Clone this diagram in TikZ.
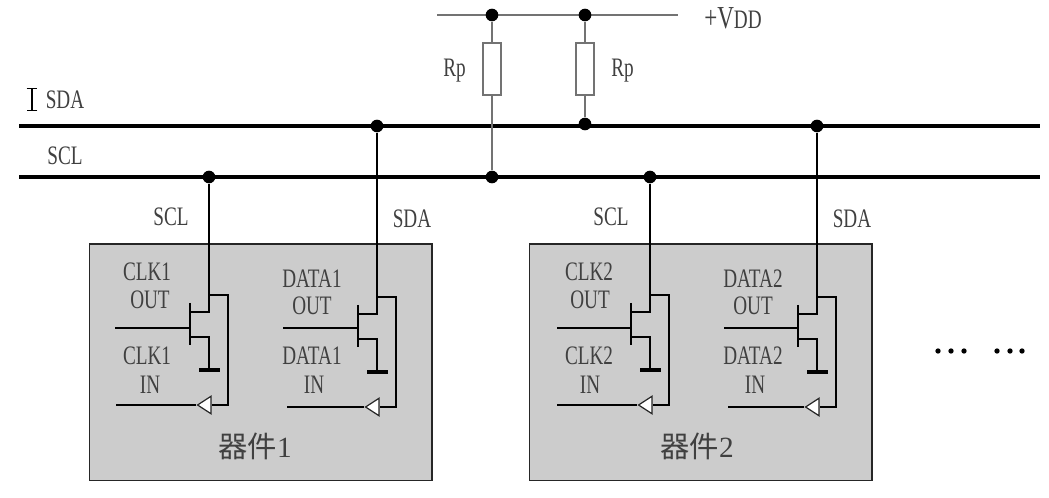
\documentclass[tikz,border=0pt]{standalone}
\usepackage{fontspec}
\setmainfont[FakeStretch=0.72]{Liberation Serif}
\newfontfamily\cjk{Noto Sans CJK SC}
\newfontfamily\devfont{Liberation Serif}
\usetikzlibrary{shapes.geometric,arrows.meta}
\tikzset{
  lbl/.style={inner sep=0pt,text=black!75,font=\fontsize{20}{20}\selectfont},
  bus/.style={line width=2.4pt},
  wire/.style={line width=0.8pt},
  rail/.style={line width=1.5pt,draw=black!55},
  dot/.style={circle,fill=black,inner sep=0pt,minimum size=9.5pt},
  chip/.style={draw=black!85,fill=black!20,line width=1pt,minimum width=257pt,minimum height=177.5pt,inner sep=0pt},
  res/.style={draw=black!55,fill=white,line width=1.5pt,minimum width=14pt,minimum height=38.5pt,inner sep=0pt},
  buf/.style={isosceles triangle,isosceles triangle stretches,shape border rotate=180,draw=black!85,fill=white,
    line width=0.9pt,minimum width=13pt,minimum height=10pt,inner sep=0pt,anchor=west}
}
\begin{document}
\begin{tikzpicture}[x=0.75pt,y=-0.75pt]
  \useasboundingbox (0,0) rectangle (1049,498);
  % devices
  \node[chip](box1) at (260.5,362.5){};
  \node[chip](box2) at (700.5,362.5){};
  % rails and buses
  \coordinate (Va) at (437,15);
  \coordinate (Vb) at (678,15);
  \coordinate (Da) at (19,126);
  \coordinate (Db) at (1040,126);
  \coordinate (Ca) at (19,177);
  \coordinate (Cb) at (1040,177);
  \draw[rail] (Va) -- (Vb);
  \draw[bus] (Da) -- (Db);
  \draw[bus] (Ca) -- (Cb);
  % pull-up resistors
  \node[dot](V1) at (492,15){};
  \node[dot](V2) at (585,15){};
  \node[dot](D2) at (585,124){};
  \node[dot](C2) at (492,177){};
  \node[res](R1) at (492,69){};
  \node[res](R2) at (585,69){};
  \draw[rail] (V1) -- (R1) -- (C2);
  \draw[rail] (V2) -- (R2) -- (D2);
  % bus marker
  \coordinate (Ia) at (32,88);
  \coordinate (Ib) at (32,111);
  \draw[line width=0.8pt,{Bar[width=8pt]}-{Bar[width=8pt]}] (Ia) -- (Ib);
  % transistors: name/bus taps
  \foreach \nm/\dx/\dy/\by/\gx/\ix in {A/209/0/177/115/116,B/377/2/126/283/287,C/650/0/177/557/557,D/817/2/126/724/728}{
    \node[dot](\nm dot) at (\dx,\by){};
    \coordinate (\nm top) at (\dx,295+\dy);
    \coordinate (\nm d) at (\dx,312+\dy);
    \coordinate (\nm s) at (\dx,337+\dy);
    \coordinate (\nm gnd) at (\dx,370+\dy);
    \coordinate (\nm ga) at (\dx-19,303+\dy);
    \coordinate (\nm gb) at (\dx-19,345+\dy);
    \coordinate (\nm gm) at (\dx-19,328);
    \coordinate (\nm gi) at (\gx,328);
    \coordinate (\nm da) at (\dx-19,312+\dy);
    \coordinate (\nm sa) at (\dx-19,337+\dy);
    \coordinate (\nm ea) at (\dx-10,370+\dy);
    \coordinate (\nm eb) at (\dx+11,370+\dy);
    \coordinate (\nm fa) at (\dx+19,295+\dy);
    \coordinate (\nm fb) at (\dx+19,405+\dy);
    \coordinate (\nm in) at (\ix,405+\dy);
    \node[buf](\nm buf) at (\dx-13,405+\dy){};
    \draw[wire] (\nm dot) -- (\nm d) -- (\nm da);
    \draw[wire] (\nm top) -- (\nm fa) -- (\nm fb) -- (\nm buf.east);
    \draw[wire] (\nm in) -- (\nm buf.west);
    \draw[wire] (\nm gi) -- (\nm gm);
    \draw[line width=1.6pt] (\nm ga) -- (\nm gb);
    \draw[line width=1.2pt] (\nm sa) -- (\nm s) -- (\nm gnd);
    \draw[line width=3pt] (\nm ea) -- (\nm eb);
  }
  % labels
  \foreach \t/\px/\py [count=\n] in {SDA/65/100,SCL/65/156,Rp/454.5/71,Rp/622.5/71,SCL/171/217,SDA/412/219,SCL/611/217,SDA/852/219,
    CLK1/147/272,OUT/150/300,CLK1/147/356,IN/150/385,DATA1/312/279,OUT/312/306,DATA1/312/356,IN/314/385,
    CLK2/589/272,OUT/590/300,CLK2/589/356,IN/590/385,DATA2/753/279,OUT/753/306,DATA2/753/356,IN/755/385}
    \node[lbl](L\n) at (\px,\py){\t};
  \node[lbl](vdd) at (733,18){\fontsize{24}{24}\selectfont +V\fontsize{20}{20}\selectfont DD};
  \node[lbl](dev1) at (255,446){{\cjk\fontsize{22}{22}\selectfont 器件}{\devfont\fontsize{22}{22}\selectfont 1}};
  \node[lbl](dev2) at (697,446){{\cjk\fontsize{22}{22}\selectfont 器件}{\devfont\fontsize{22}{22}\selectfont 2}};
  % more devices
  \foreach \i in {938,951,964,997,1010,1022}
    \node[circle,fill=black,inner sep=0pt,minimum size=4pt](M\i) at (\i,351){};
\end{tikzpicture}
\end{document}
